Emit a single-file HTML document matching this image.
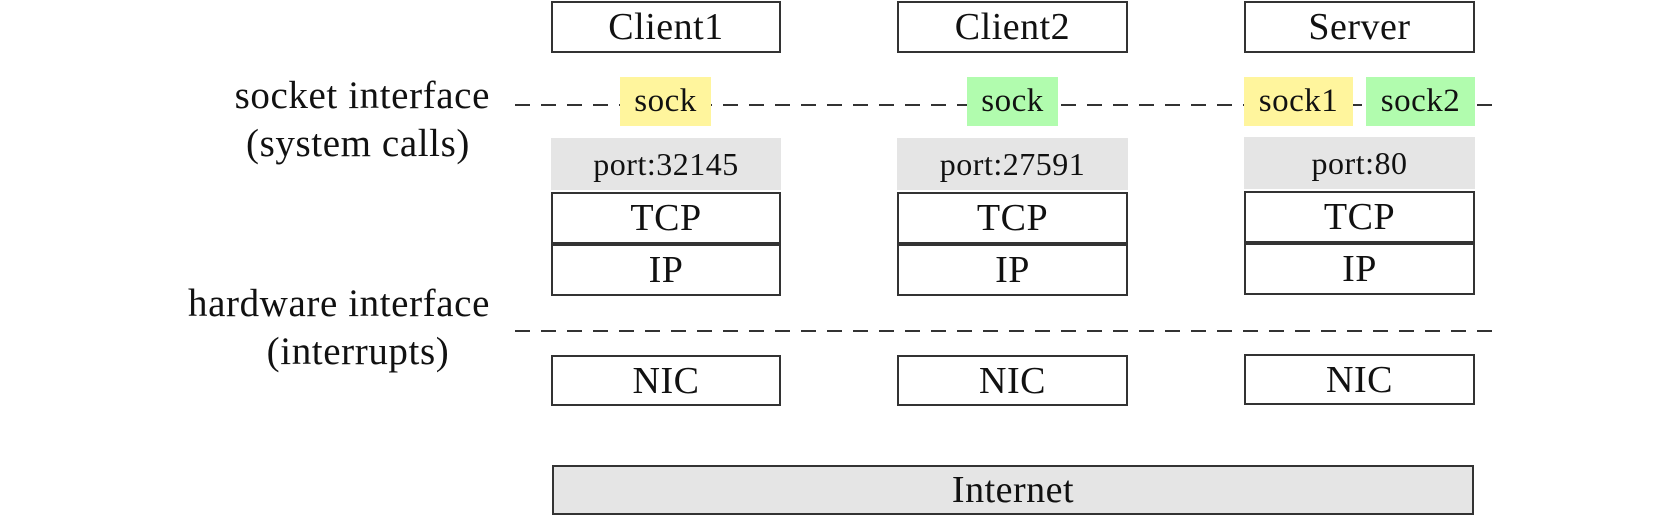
<!DOCTYPE html>
<html><head><meta charset="utf-8"><style>
body{margin:0;width:1673px;height:515px;background:#fff;position:relative;overflow:hidden;font-family:"Liberation Serif",serif;color:#111}
.b{position:absolute;box-sizing:border-box;border:2px solid #333;background:#fff;display:flex;align-items:center;justify-content:center;font-size:38px;letter-spacing:0.5px}
.p{position:absolute;box-sizing:border-box;background:#e5e5e5;display:flex;align-items:center;justify-content:center;font-size:32px;letter-spacing:0.5px}
.s{position:absolute;display:flex;align-items:center;justify-content:center;font-size:33px;letter-spacing:0.5px}
.y{background:#fff59d}.g{background:#b1fcae}
.d{position:absolute;left:515px;width:984px;height:2px;background:repeating-linear-gradient(90deg,#333 0 15px,transparent 15px 26px)}
.l{position:absolute;font-size:39px;text-align:center;width:400px;letter-spacing:0.6px;line-height:1}
</style></head><body>
<div class="d" style="top:104px"></div>
<div class="d" style="top:330px"></div>

<div class="l" style="left:90px;top:76px;text-align:right">socket interface</div>
<div class="l" style="left:158px;top:124px">(system calls)</div>
<div class="l" style="left:90px;top:284px;text-align:right">hardware interface</div>
<div class="l" style="left:158px;top:332px">(interrupts)</div>

<div class="b" style="left:551px;top:1px;width:230px;height:52px">Client1</div>
<div class="b" style="left:897px;top:1px;width:231px;height:52px">Client2</div>
<div class="b" style="left:1244px;top:1px;width:231px;height:52px">Server</div>

<div class="s y" style="left:620px;top:77px;width:91px;height:49px">sock</div>
<div class="s g" style="left:967px;top:77px;width:91px;height:49px">sock</div>
<div class="s y" style="left:1244px;top:77px;width:109px;height:49px">sock1</div>
<div class="s g" style="left:1366px;top:77px;width:109px;height:49px">sock2</div>

<div class="p" style="left:551px;top:138px;width:230px;height:52px">port:32145</div>
<div class="p" style="left:897px;top:138px;width:231px;height:52px">port:27591</div>
<div class="p" style="left:1244px;top:137px;width:231px;height:52px">port:80</div>

<div class="b" style="left:551px;top:192px;width:230px;height:52px">TCP</div>
<div class="b" style="left:551px;top:244px;width:230px;height:52px">IP</div>
<div class="b" style="left:897px;top:192px;width:231px;height:52px">TCP</div>
<div class="b" style="left:897px;top:244px;width:231px;height:52px">IP</div>
<div class="b" style="left:1244px;top:191px;width:231px;height:52px">TCP</div>
<div class="b" style="left:1244px;top:243px;width:231px;height:52px">IP</div>

<div class="b" style="left:551px;top:355px;width:230px;height:51px">NIC</div>
<div class="b" style="left:897px;top:355px;width:231px;height:51px">NIC</div>
<div class="b" style="left:1244px;top:354px;width:231px;height:51px">NIC</div>

<div class="b" style="left:552px;top:465px;width:922px;height:50px;background:#e5e5e5">Internet</div>
</body></html>
